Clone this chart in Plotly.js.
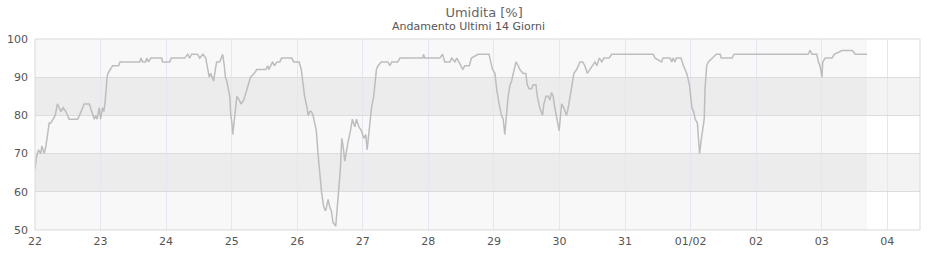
<!DOCTYPE html>
<html>
<head>
<meta charset="utf-8">
<script src="https://cdn.plot.ly/plotly-3.0.1.min.js"></script>
<style>html,body{margin:0;padding:0;background:#fff;}#chart{width:940px;height:260px;}</style>
</head>
<body>
<div id="chart"></div>
<script>
// Hours elapsed since 22 Jan 00:00
const hours = [0,0.5,1.3,2.1,2.5,3.4,4,4.6,5.2,5.8,6.7,7.4,8.2,8.9,9.5,10.3,11.3,11.9,12.5,14.1,15.6,16.3,16.8,17.4,18,19.9,20.3,20.8,21.7,22.2,22.7,23.5,24,24.7,25.2,25.6,25.9,26.4,26.7,27.4,28.4,30.6,31.1,38.3,38.8,39.4,40.5,40.9,41.6,42.4,46.4,46.7,49.3,49.9,54.8,55.9,56.6,57.3,59.5,60.3,61.5,62.5,63.2,63.8,64.3,65.4,66,66.5,67.6,68.2,68.7,69.3,69.7,70.2,70.8,71.3,71.7,72.1,72.4,72.8,73.2,73.9,74.8,75.4,76.4,77.2,78,78.9,80.3,81.2,84.5,85.2,85.6,86.4,87,87.6,88.6,89.6,90.3,94,94.7,96.7,97.5,98,98.7,99.6,100,100.6,101.2,101.8,102.4,103,103.6,104.2,104.9,105.7,106.4,107.3,107.9,108.5,109.1,110.1,110.6,111.3,111.8,112.3,112.8,113.4,114,114.6,115.5,116.2,117.1,117.7,118.6,119.5,120.4,121.1,121.6,122.3,123.2,124,124.4,125,125.6,126.8,129.2,129.9,130.6,132.8,133.6,142,142.2,142.7,148.2,149.2,150,151.9,152.6,153.7,154.4,155.2,156.7,157.3,159,159.8,162.2,166.2,166.8,167.5,168.4,169,169.9,170.8,171.4,172,172.6,173.2,173.9,174.5,175.1,176.1,176.9,177.5,178.7,179.7,180.2,180.9,181.8,182.4,183.4,183.9,184.8,185.8,186.3,187.1,187.9,188.5,189.1,189.7,190.3,191.2,191.9,192.4,192.8,193.6,194.6,195.2,196.1,196.8,197.3,198.3,199.5,200.5,201.3,202.2,203.2,204.2,205,205.7,206.6,207.5,208.3,210.2,211.1,226.3,227,229.4,229.9,232.5,233.1,233.6,234.3,234.8,236.5,237.4,238.6,239.6,240,240.5,241.1,241.7,242.5,243.3,243.8,244.5,245,245.3,245.9,246.5,247.8,249.4,250.9,251.2,255.2,255.9,258.5,283,283.8,284.5,286.2,286.8,287.4,288.1,288.4,289.3,291.8,292.6,295.4,299.2,300.3,304.6];
const humidity = [66,69,71,70,72,70,72,75,78,78,79,80,83,82,81,82,81,80,79,79,79,80,81,82,83,83,82,81,79,80,79,82,79,82,81,83,86,90,91,92,93,93,94,94,95,94,94,95,94,95,95,94,94,95,95,96,95,96,96,95,96,95,92,90,91,89,92,94,94,95,96,93,90,89,87,85,80,78,75,78,81,85,84,83,84,86,88,90,91,92,92,93,92,93,94,93,94,94,95,95,94,94,92,89,85,82,80,81,81,80,78,76,70,65,60,56,55,58,56,55,52,51,55,60,66,74,72,68,71,73,76,79,77,79,77,76,74,75,71,76,82,85,88,92,93,94,94,93,94,94,95,95,96,95,95,96,94,94,95,94,95,94,92,93,93,95,96,96,94,92,91,87,83,80,79,75,80,85,88,89,91,94,93,92,91,91,88,87,87,88,88,85,82,80,83,85,85,84,86,85,82,79,76,80,83,82,80,82,86,90,91,92,94,94,93,91,92,93,94,93,95,94,95,95,96,96,95,94,95,95,94,95,94,95,95,93,91,88,85,82,81,79,78,70,73,76,79,87,93,94,95,96,96,95,95,96,96,96,97,96,96,94,93,90,94,95,95,96,97,97,96,96];
const tickDays = ['2024-01-22','2024-01-23','2024-01-24','2024-01-25','2024-01-26','2024-01-27','2024-01-28','2024-01-29','2024-01-30','2024-01-31','2024-02-01','2024-02-02','2024-02-03','2024-02-04'];
const tickLabels = ['22','23','24','25','26','27','28','29','30','31','01/02','02','03','04'];
const yTicks = [50,60,70,80,90,100];

const base = Date.UTC(2024,0,22,0,0,0);
function fmt(ms){
  const d = new Date(ms);
  const p = n => String(n).padStart(2,'0');
  return d.getUTCFullYear()+'-'+p(d.getUTCMonth()+1)+'-'+p(d.getUTCDate())+' '+p(d.getUTCHours())+':'+p(d.getUTCMinutes())+':'+p(d.getUTCSeconds());
}
const times = hours.map(h => fmt(base + Math.round(h*3600000)));

const trace = {
  x: times, y: humidity, type: 'scatter', mode: 'lines',
  line: {color: '#bdbdbd', width: 1.5},
  hoverinfo: 'x+y'
};

const shapes = [
  {type:'rect', xref:'paper', yref:'y', x0:0, x1:1, y0:60, y1:70, fillcolor:'#f3f3f3', line:{width:0}, layer:'below'},
  {type:'rect', xref:'paper', yref:'y', x0:0, x1:1, y0:80, y1:90, fillcolor:'#f3f3f3', line:{width:0}, layer:'below'},
  {type:'rect', xref:'x', yref:'paper', x0:times[0], x1:times[times.length-1], y0:0, y1:1, fillcolor:'rgba(0,0,0,0.028)', line:{width:0}, layer:'below'},
  {type:'rect', xref:'paper', yref:'paper', x0:0, x1:1, y0:0, y1:1, fillcolor:'rgba(0,0,0,0)', line:{color:'#d9d9d9', width:1}, layer:'above'}
];

const layout = {
  width: 940, height: 260,
  margin: {l: 35, r: 20, t: 39, b: 30},
  paper_bgcolor: '#ffffff', plot_bgcolor: '#ffffff',
  font: {family: 'DejaVu Sans, sans-serif', size: 11, color: '#555'},
  title: {text: 'Umidita [%]', font: {family: 'DejaVu Sans, sans-serif', size: 13, color: '#666'}, x: 0.515, xref: 'container', y: 1 - 12/260, yref: 'container', yanchor: 'middle'},
  annotations: [{text: 'Andamento Ultimi 14 Giorni', xref: 'paper', yref: 'paper', x: 0.49, y: (230-27)/191, xanchor: 'center', yanchor: 'middle', showarrow: false, font: {family: 'DejaVu Sans, sans-serif', size: 11, color: '#555'}}],
  xaxis: {
    type: 'date', range: ['2024-01-22 00:00:00', '2024-02-04 12:00:00'],
    tickmode: 'array', tickvals: tickDays, ticktext: tickLabels,
    showgrid: true, gridcolor: '#e6e6f2', gridwidth: 1,
    zeroline: false, showline: false, ticks: '', ticklabelstandoff: 3,
    tickfont: {size: 11, color: '#555'}, fixedrange: true
  },
  yaxis: {
    range: [50, 100], tickmode: 'array', tickvals: yTicks,
    showgrid: true, gridcolor: '#dcdcdc', gridwidth: 1,
    zeroline: false, showline: false, ticks: '', ticklabelstandoff: 6,
    tickfont: {size: 11, color: '#555'}, fixedrange: true
  },
  shapes: shapes,
  showlegend: false
};

Plotly.newPlot('chart', [trace], layout, {displayModeBar: false, staticPlot: true});
</script>
</body>
</html>
